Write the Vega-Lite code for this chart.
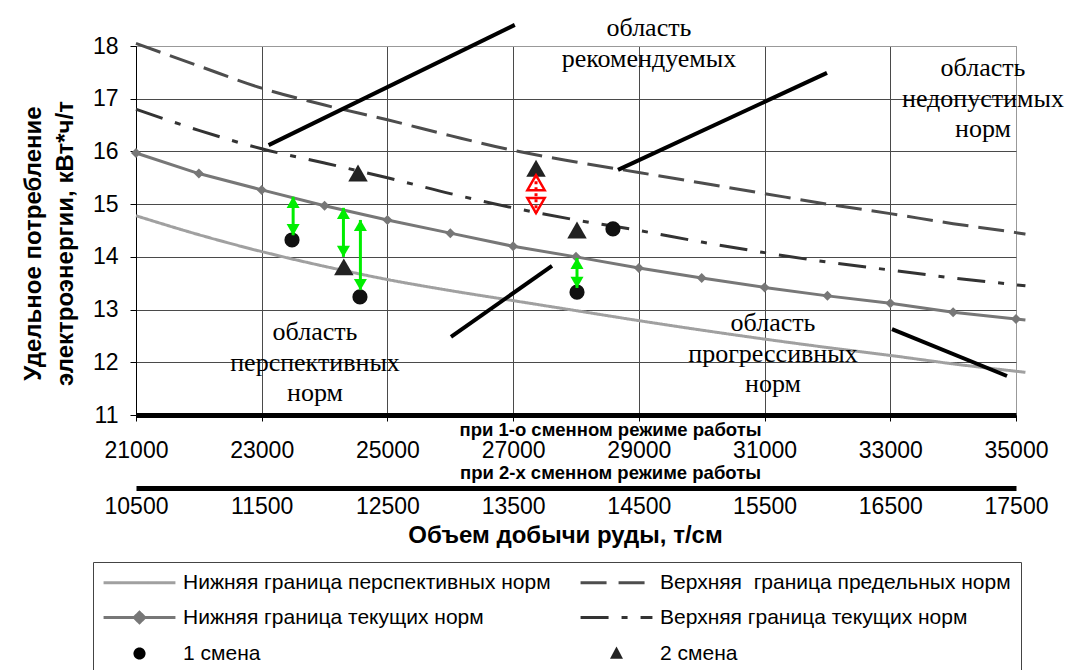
{
  "$schema": "https://vega.github.io/schema/vega-lite/v6.json",
  "width": 880,
  "height": 369,
  "autosize": {"type": "none"},
  "padding": {"left": 136, "top": 46, "right": 55, "bottom": 255},
  "background": "white",
  "config": {"view": {"stroke": "#999", "strokeWidth": 1}, "font": "Liberation Sans"},
  "datasets": {
    "lines": [
      {"series": "Нижняя граница перспективных норм", "x": 21000, "y": 14.78},
      {"series": "Нижняя граница перспективных норм", "x": 22000, "y": 14.42},
      {"series": "Нижняя граница перспективных норм", "x": 23000, "y": 14.1},
      {"series": "Нижняя граница перспективных норм", "x": 24000, "y": 13.82},
      {"series": "Нижняя граница перспективных норм", "x": 25000, "y": 13.57},
      {"series": "Нижняя граница перспективных норм", "x": 26000, "y": 13.36},
      {"series": "Нижняя граница перспективных норм", "x": 27000, "y": 13.17},
      {"series": "Нижняя граница перспективных норм", "x": 28000, "y": 12.98},
      {"series": "Нижняя граница перспективных норм", "x": 29000, "y": 12.79},
      {"series": "Нижняя граница перспективных норм", "x": 30000, "y": 12.61},
      {"series": "Нижняя граница перспективных норм", "x": 31000, "y": 12.44},
      {"series": "Нижняя граница перспективных норм", "x": 32000, "y": 12.28},
      {"series": "Нижняя граница перспективных норм", "x": 33000, "y": 12.13},
      {"series": "Нижняя граница перспективных норм", "x": 34000, "y": 11.97},
      {"series": "Нижняя граница перспективных норм", "x": 35000, "y": 11.83},
      {"series": "Нижняя граница перспективных норм", "x": 35150, "y": 11.81},
      {"series": "Верхняя  граница предельных норм", "x": 21000, "y": 18.05},
      {"series": "Верхняя  граница предельных норм", "x": 22000, "y": 17.62},
      {"series": "Верхняя  граница предельных норм", "x": 23000, "y": 17.2},
      {"series": "Верхняя  граница предельных норм", "x": 24000, "y": 16.88},
      {"series": "Верхняя  граница предельных норм", "x": 25000, "y": 16.6},
      {"series": "Верхняя  граница предельных норм", "x": 26000, "y": 16.3},
      {"series": "Верхняя  граница предельных норм", "x": 27000, "y": 16.02},
      {"series": "Верхняя  граница предельных норм", "x": 28000, "y": 15.8},
      {"series": "Верхняя  граница предельных норм", "x": 29000, "y": 15.6},
      {"series": "Верхняя  граница предельных норм", "x": 30000, "y": 15.4},
      {"series": "Верхняя  граница предельных норм", "x": 31000, "y": 15.2},
      {"series": "Верхняя  граница предельных норм", "x": 32000, "y": 15.0},
      {"series": "Верхняя  граница предельных норм", "x": 33000, "y": 14.82},
      {"series": "Верхняя  граница предельных норм", "x": 34000, "y": 14.63},
      {"series": "Верхняя  граница предельных норм", "x": 35000, "y": 14.46},
      {"series": "Верхняя  граница предельных норм", "x": 35150, "y": 14.43},
      {"series": "Нижняя граница текущих норм", "x": 21000, "y": 15.97},
      {"series": "Нижняя граница текущих норм", "x": 22000, "y": 15.58},
      {"series": "Нижняя граница текущих норм", "x": 23000, "y": 15.27},
      {"series": "Нижняя граница текущих норм", "x": 24000, "y": 14.97},
      {"series": "Нижняя граница текущих норм", "x": 25000, "y": 14.7},
      {"series": "Нижняя граница текущих норм", "x": 26000, "y": 14.45},
      {"series": "Нижняя граница текущих норм", "x": 27000, "y": 14.2},
      {"series": "Нижняя граница текущих норм", "x": 28000, "y": 14.0},
      {"series": "Нижняя граница текущих норм", "x": 29000, "y": 13.79},
      {"series": "Нижняя граница текущих норм", "x": 30000, "y": 13.6},
      {"series": "Нижняя граница текущих норм", "x": 31000, "y": 13.42},
      {"series": "Нижняя граница текущих норм", "x": 32000, "y": 13.26},
      {"series": "Нижняя граница текущих норм", "x": 33000, "y": 13.12},
      {"series": "Нижняя граница текущих норм", "x": 34000, "y": 12.95},
      {"series": "Нижняя граница текущих норм", "x": 35000, "y": 12.82},
      {"series": "Нижняя граница текущих норм", "x": 35150, "y": 12.8},
      {"series": "Верхняя граница текущих норм", "x": 21000, "y": 16.8},
      {"series": "Верхняя граница текущих норм", "x": 22000, "y": 16.4},
      {"series": "Верхняя граница текущих норм", "x": 23000, "y": 16.05},
      {"series": "Верхняя граница текущих норм", "x": 24000, "y": 15.78},
      {"series": "Верхняя граница текущих норм", "x": 25000, "y": 15.5},
      {"series": "Верхняя граница текущих норм", "x": 26000, "y": 15.2},
      {"series": "Верхняя граница текущих норм", "x": 27000, "y": 14.93},
      {"series": "Верхняя граница текущих норм", "x": 28000, "y": 14.7},
      {"series": "Верхняя граница текущих норм", "x": 29000, "y": 14.5},
      {"series": "Верхняя граница текущих норм", "x": 30000, "y": 14.28},
      {"series": "Верхняя граница текущих норм", "x": 31000, "y": 14.08},
      {"series": "Верхняя граница текущих норм", "x": 32000, "y": 13.9},
      {"series": "Верхняя граница текущих норм", "x": 33000, "y": 13.75},
      {"series": "Верхняя граница текущих норм", "x": 34000, "y": 13.6},
      {"series": "Верхняя граница текущих норм", "x": 35000, "y": 13.47},
      {"series": "Верхняя граница текущих норм", "x": 35150, "y": 13.45}
    ],
    "points": [
      {"shift": "1 смена", "x": 23482, "y": 14.32},
      {"shift": "1 смена", "x": 24563, "y": 13.24},
      {"shift": "1 смена", "x": 28588, "y": 14.53},
      {"shift": "1 смена", "x": 28016, "y": 13.33},
      {"shift": "2 смена", "x": 24532, "y": 15.59},
      {"shift": "2 смена", "x": 24306, "y": 13.81},
      {"shift": "2 смена", "x": 27364, "y": 15.68},
      {"shift": "2 смена", "x": 28016, "y": 14.51}
    ],
    "arrows": [
      {"kind": "g", "x": 23500, "top": 15.14, "bottom": 14.41},
      {"kind": "g", "x": 24300, "top": 14.93, "bottom": 14.0},
      {"kind": "g", "x": 24570, "top": 14.7, "bottom": 13.37},
      {"kind": "g", "x": 28016, "top": 13.98, "bottom": 13.41},
      {"kind": "r", "x": 27364, "top": 15.55, "bottom": 14.83}
    ],
    "callouts": [
      {"x": 23110, "y": 16.12, "x2": 27026, "y2": 18.4},
      {"x": 28668, "y": 15.65, "x2": 31993, "y2": 17.49},
      {"x": 26011, "y": 12.48, "x2": 27618, "y2": 13.83},
      {"x": 33027, "y": 12.63, "x2": 34857, "y2": 11.74}
    ],
    "regions": [
      {"label": "область\nрекомендуемых", "x": 29161, "y": 18.34},
      {"label": "область\nнедопустимых\nнорм", "x": 34475, "y": 17.58},
      {"label": "область\nперспективных\nнорм", "x": 23848, "y": 12.57},
      {"label": "область\nпрогрессивных\nнорм", "x": 31134, "y": 12.745}
    ]
  },
  "layer": [
    {
      "data": {"name": "lines"},
      "transform": [{"filter": "datum.series != 'Нижняя граница текущих норм'"}],
      "mark": {"type": "line", "interpolate": "monotone", "strokeWidth": 3, "clip": false},
      "encoding": {
        "x": {
          "field": "x", "type": "quantitative",
          "scale": {"domain": [21000, 35000], "nice": false, "zero": false},
          "axis": {
            "orient": "bottom",
            "values": [21000, 23000, 25000, 27000, 29000, 31000, 33000, 35000],
            "format": "d", "grid": true,
            "gridColor": {"condition": {"test": "datum.value == 35000", "value": "#999999"}, "value": "#4a4a4a"},
            "gridWidth": 1,
            "domainColor": "#000", "domainWidth": 5,
            "tickColor": "#000", "tickSize": 6, "tickWidth": 1,
            "labelFont": "Liberation Sans", "labelFontSize": 23, "labelColor": "#000", "labelPadding": 18,
            "labelFlush": false, "labelOverlap": false, "labelBound": false,
            "title": "при 1-о сменном режиме работы",
            "titleFont": "Liberation Sans", "titleFontSize": 18.5, "titleFontWeight": "bold", "titleColor": "#000",
            "titleX": 474, "titleY": 14, "titleAlign": "center", "titleBaseline": "middle", "titleAnchor": null
          }
        },
        "y": {
          "field": "y", "type": "quantitative",
          "scale": {"domain": [11, 18], "nice": false, "zero": false},
          "axis": {
            "orient": "left",
            "values": [11, 12, 13, 14, 15, 16, 17, 18],
            "format": "d", "grid": true,
            "gridColor": {"condition": {"test": "datum.value == 18", "value": "#999999"}, "value": "#4a4a4a"},
            "gridWidth": 1,
            "domainColor": "#000", "domainWidth": 1,
            "tickColor": "#000", "tickSize": 6,
            "labelFont": "Liberation Sans", "labelFontSize": 23, "labelColor": "#000", "labelPadding": 12,
            "labelFlush": false, "labelOverlap": false, "labelBound": false,
            "title": ["Удельное потребление", "электроэнергии, кВт*ч/т"],
            "titleFont": "Liberation Sans", "titleFontSize": 24, "titleFontWeight": "bold", "titleColor": "#000",
            "titleLineHeight": 32, "titleAngle": -90, "titleX": -103, "titleY": 197,
            "titleAlign": "center", "titleBaseline": "middle", "titleAnchor": null
          }
        },
        "color": {
          "field": "series", "type": "nominal",
          "scale": {
            "domain": ["Нижняя граница перспективных норм", "Верхняя  граница предельных норм", "Нижняя граница текущих норм", "Верхняя граница текущих норм", "1 смена", "2 смена"],
            "range": ["#a0a0a0", "#4d4d4d", "#777777", "#333333", "#000000", "#222222"]
          },
          "legend": {
            "title": null, "orient": "none", "legendX": -43, "legendY": 516,
            "columns": 2, "direction": "horizontal",
            "symbolSize": 300, "symbolStrokeWidth": 3, "symbolOffset": 26, "labelOffset": 33,
            "rowPadding": 13, "columnPadding": 23, "padding": 10,
            "labelFont": "Liberation Sans", "labelFontSize": 21, "labelColor": "#000", "labelLimit": 600,
            "labelExpr": "replace(datum.label, 'Верхняя  граница', 'Верхняя\u00a0\u00a0граница')",
            "strokeColor": "#444", "fillColor": "white",
            "encode": {
              "symbols": {
                "update": {
                  "shape": {"signal": "datum.index == 2 ? 'M-4.15,0H4.15M0,-0.6L0.6,0L0,0.6L-0.6,0Z' : datum.index == 4 ? 'M0,-0.7A0.7,0.7,0,1,1,0,0.7A0.7,0.7,0,1,1,0,-0.7Z' : datum.index == 5 ? 'M0,-0.8L0.75,0.6L-0.75,0.6Z' : 'M-4.15,0H4.15'"},
                  "fill": {"signal": "datum.index == 2 ? '#777777' : datum.index == 4 ? '#000000' : datum.index == 5 ? '#222222' : 'transparent'"},
                  "stroke": {"signal": "['#a0a0a0','#4d4d4d','#777777','#333333','#000000','#222222'][datum.index]"},
                  "strokeWidth": {"signal": "datum.index >= 4 ? 0 : 3"},
                  "strokeDash": {"signal": "datum.index == 1 ? [26,12] : datum.index == 3 ? [28,13,6,13] : [1,0]"},
                  "opacity": {"value": 1}
                }
              }
            }
          }
        },
        "strokeDash": {
          "field": "series", "type": "nominal",
          "scale": {
            "domain": ["Нижняя граница перспективных норм", "Верхняя  граница предельных норм", "Верхняя граница текущих норм"],
            "range": [[1, 0], [26, 10], [28, 13, 6, 13]]
          },
          "legend": null
        }
      }
    },
    {
      "data": {"name": "lines"},
      "transform": [{"filter": "datum.series == 'Нижняя граница текущих норм'"}],
      "mark": {"type": "line", "strokeWidth": 3, "clip": false},
      "encoding": {
        "x": {"field": "x", "type": "quantitative", "scale": {"domain": [21000, 35000], "nice": false, "zero": false}, "axis": null},
        "y": {"field": "y", "type": "quantitative", "scale": {"domain": [11, 18], "nice": false, "zero": false}, "axis": null},
        "color": {"field": "series", "type": "nominal"}
      }
    },
    {
      "data": {"name": "lines"},
      "transform": [{"filter": "datum.series == 'Нижняя граница текущих норм' && datum.x <= 35000"}],
      "mark": {"type": "point", "shape": "diamond", "filled": true, "size": 100, "color": "#777777", "opacity": 1},
      "encoding": {
        "x": {"field": "x", "type": "quantitative", "scale": {"domain": [21000, 35000], "nice": false, "zero": false}, "axis": null},
        "y": {"field": "y", "type": "quantitative", "scale": {"domain": [11, 18], "nice": false, "zero": false}, "axis": null}
      }
    },
    {
      "data": {"name": "points"},
      "transform": [{"filter": "datum.shift == '1 смена'"}],
      "mark": {"type": "point", "shape": "circle", "filled": true, "size": 230, "color": "#111111", "opacity": 1},
      "encoding": {
        "x": {"field": "x", "type": "quantitative", "scale": {"domain": [21000, 35000], "nice": false, "zero": false}, "axis": null},
        "y": {"field": "y", "type": "quantitative", "scale": {"domain": [11, 18], "nice": false, "zero": false}, "axis": null}
      }
    },
    {
      "data": {"name": "points"},
      "transform": [{"filter": "datum.shift == '2 смена'"}],
      "mark": {"type": "point", "shape": "triangle-up", "filled": true, "size": 380, "color": "#222222", "opacity": 1},
      "encoding": {
        "x": {"field": "x", "type": "quantitative", "scale": {"domain": [21000, 35000], "nice": false, "zero": false}, "axis": null},
        "y": {"field": "y", "type": "quantitative", "scale": {"domain": [11, 18], "nice": false, "zero": false}, "axis": null}
      }
    },
    {
      "data": {"name": "arrows"},
      "transform": [{"filter": "datum.kind == 'g'"}],
      "mark": {"type": "rule", "color": "#00ee00", "strokeWidth": 3},
      "encoding": {
        "x": {"field": "x", "type": "quantitative", "scale": {"domain": [21000, 35000], "nice": false, "zero": false}, "axis": null},
        "y": {"field": "top", "type": "quantitative", "scale": {"domain": [11, 18], "nice": false, "zero": false}, "axis": null},
        "y2": {"field": "bottom"}
      }
    },
    {
      "data": {"name": "arrows"},
      "transform": [{"filter": "datum.kind == 'g'"}],
      "mark": {"type": "point", "shape": "triangle-up", "filled": true, "size": 170, "color": "#00ee00", "opacity": 1, "yOffset": 5.5},
      "encoding": {
        "x": {"field": "x", "type": "quantitative", "scale": {"domain": [21000, 35000], "nice": false, "zero": false}, "axis": null},
        "y": {"field": "top", "type": "quantitative", "scale": {"domain": [11, 18], "nice": false, "zero": false}, "axis": null}
      }
    },
    {
      "data": {"name": "arrows"},
      "transform": [{"filter": "datum.kind == 'g'"}],
      "mark": {"type": "point", "shape": "triangle-down", "filled": true, "size": 170, "color": "#00ee00", "opacity": 1, "yOffset": -5.5},
      "encoding": {
        "x": {"field": "x", "type": "quantitative", "scale": {"domain": [21000, 35000], "nice": false, "zero": false}, "axis": null},
        "y": {"field": "bottom", "type": "quantitative", "scale": {"domain": [11, 18], "nice": false, "zero": false}, "axis": null}
      }
    },
    {
      "data": {"name": "arrows"},
      "transform": [{"filter": "datum.kind == 'r'"}],
      "mark": {"type": "rule", "color": "#ff0000", "strokeWidth": 3, "strokeDash": [3, 3]},
      "encoding": {
        "x": {"field": "x", "type": "quantitative", "scale": {"domain": [21000, 35000], "nice": false, "zero": false}, "axis": null},
        "y": {"field": "top", "type": "quantitative", "scale": {"domain": [11, 18], "nice": false, "zero": false}, "axis": null},
        "y2": {"field": "bottom"}
      }
    },
    {
      "data": {"name": "arrows"},
      "transform": [{"filter": "datum.kind == 'r'"}],
      "mark": {"type": "point", "shape": "triangle-up", "filled": false, "size": 300, "color": "#ff0000", "strokeWidth": 2.5, "opacity": 1, "yOffset": 7.5},
      "encoding": {
        "x": {"field": "x", "type": "quantitative", "scale": {"domain": [21000, 35000], "nice": false, "zero": false}, "axis": null},
        "y": {"field": "top", "type": "quantitative", "scale": {"domain": [11, 18], "nice": false, "zero": false}, "axis": null}
      }
    },
    {
      "data": {"name": "arrows"},
      "transform": [{"filter": "datum.kind == 'r'"}],
      "mark": {"type": "point", "shape": "triangle-down", "filled": false, "size": 300, "color": "#ff0000", "strokeWidth": 2.5, "opacity": 1, "yOffset": -7.5},
      "encoding": {
        "x": {"field": "x", "type": "quantitative", "scale": {"domain": [21000, 35000], "nice": false, "zero": false}, "axis": null},
        "y": {"field": "bottom", "type": "quantitative", "scale": {"domain": [11, 18], "nice": false, "zero": false}, "axis": null}
      }
    },
    {
      "data": {"name": "callouts"},
      "mark": {"type": "rule", "color": "#000000", "strokeWidth": 4, "clip": false},
      "encoding": {
        "x": {"field": "x", "type": "quantitative", "scale": {"domain": [21000, 35000], "nice": false, "zero": false}, "axis": null},
        "x2": {"field": "x2"},
        "y": {"field": "y", "type": "quantitative", "scale": {"domain": [11, 18], "nice": false, "zero": false}, "axis": null},
        "y2": {"field": "y2"}
      }
    },
    {
      "data": {"name": "regions"},
      "mark": {"type": "text", "font": "Liberation Serif", "fontSize": 26, "lineHeight": 30.5, "lineBreak": "\n", "align": "center", "baseline": "middle", "color": "#000000"},
      "encoding": {
        "x": {"field": "x", "type": "quantitative", "scale": {"domain": [21000, 35000], "nice": false, "zero": false}, "axis": null},
        "y": {"field": "y", "type": "quantitative", "scale": {"domain": [11, 18], "nice": false, "zero": false}, "axis": null},
        "text": {"field": "label"}
      }
    },
    {
      "mark": {"type": "point", "shape": "triangle-right", "filled": true, "size": 200, "color": "#000000", "opacity": 1, "clip": false},
      "encoding": {
        "x": {"datum": 35000, "type": "quantitative", "scale": {"domain": [21000, 35000], "nice": false, "zero": false}, "axis": null},
        "y": {"datum": 11, "type": "quantitative", "scale": {"domain": [11, 18], "nice": false, "zero": false}, "axis": null}
      }
    },
    {
      "mark": {"type": "point", "shape": "triangle-right", "filled": true, "size": 200, "color": "#000000", "opacity": 1, "clip": false},
      "encoding": {
        "x": {
          "datum": 35000, "type": "quantitative",
          "scale": {"domain": [21000, 35000], "nice": false, "zero": false},
          "axis": {
            "orient": "bottom",
            "values": [21000, 23000, 25000, 27000, 29000, 31000, 33000, 35000],
            "labelExpr": "format(datum.value / 2, 'd')",
            "offset": 73, "grid": false,
            "domainColor": "#000", "domainWidth": 5,
            "ticks": false, "tickSize": 0,
            "labelFont": "Liberation Sans", "labelFontSize": 23, "labelColor": "#000", "labelPadding": 7,
            "labelFlush": false, "labelOverlap": false, "labelBound": false,
            "title": "Объем добычи руды, т/см",
            "titleFont": "Liberation Sans", "titleFontSize": 24, "titleFontWeight": "bold", "titleColor": "#000",
            "titleX": 429, "titleY": 47, "titleAlign": "center", "titleBaseline": "middle", "titleAnchor": null
          }
        },
        "y": {"datum": 9.6152, "type": "quantitative", "scale": {"domain": [11, 18], "nice": false, "zero": false}, "axis": null}
      }
    },
    {
      "mark": {"type": "rect", "filled": false, "stroke": "#000000", "strokeWidth": 1.2, "clip": false},
      "encoding": {
        "x": {
          "datum": 18964, "type": "quantitative",
          "scale": {"domain": [21000, 35000], "nice": false, "zero": false},
          "axis": {
            "orient": "bottom",
            "offset": 73, "grid": false, "domain": false, "ticks": false, "labels": false,
            "title": "при 2-х сменном режиме работы",
            "titleFont": "Liberation Sans", "titleFontSize": 18.5, "titleFontWeight": "bold", "titleColor": "#000",
            "titleX": 474, "titleY": -16, "titleAlign": "center", "titleBaseline": "middle", "titleAnchor": null
          }
        },
        "x2": {"datum": 35748},
        "y": {"datum": 18.72, "type": "quantitative", "scale": {"domain": [11, 18], "nice": false, "zero": false}, "axis": null},
        "y2": {"datum": 5.9}
      }
    }
  ],
  "resolve": {"axis": {"x": "independent", "y": "independent"}}
}
